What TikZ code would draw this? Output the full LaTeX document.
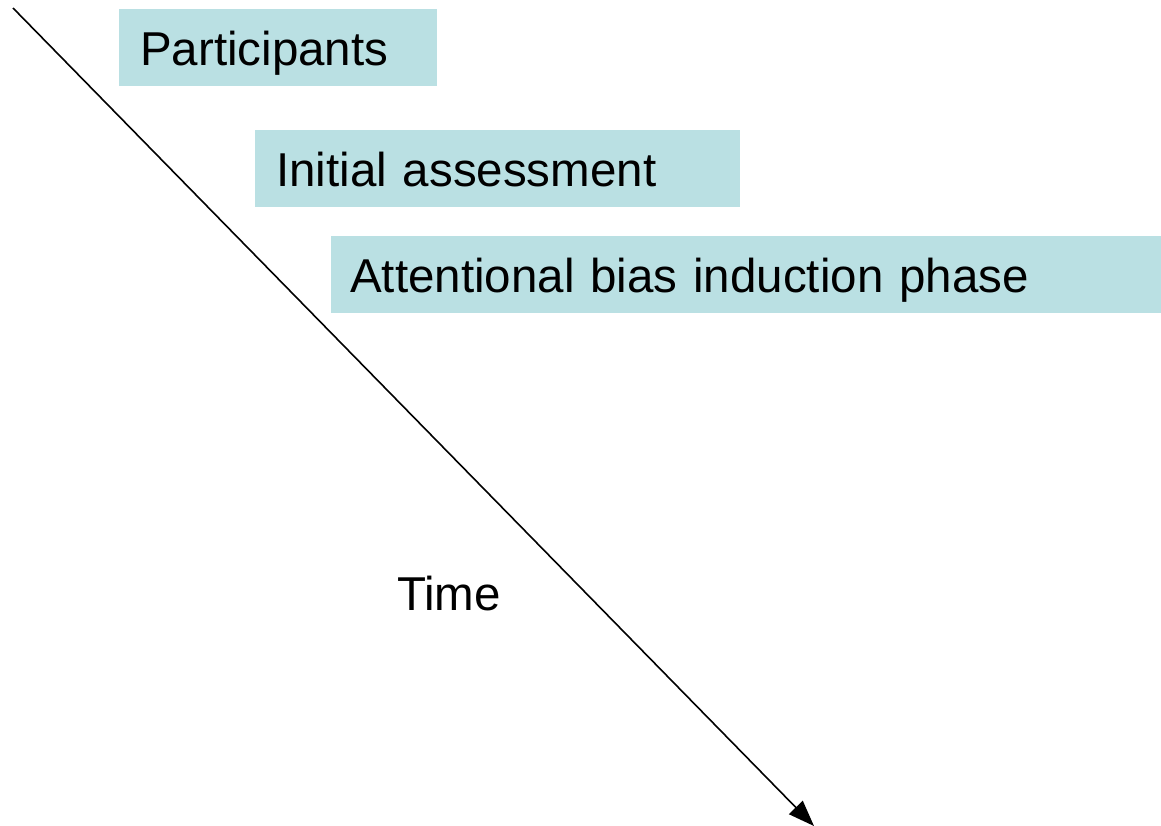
\documentclass[tikz,border=0pt]{standalone}
\usepackage{fontspec}
\setmainfont{Liberation Sans}
\usetikzlibrary{arrows.meta}
\definecolor{phasefill}{HTML}{BAE0E3}
\begin{document}
\begin{tikzpicture}[x=1pt,y=-1pt,
  phasebox/.style={fill=phasefill, anchor=north west, inner xsep=21pt, inner ysep=0pt,
    minimum height=77pt, text height=46pt, text depth=10pt, align=left,
    font=\fontsize{47.5}{52}\selectfont},
  timeline/.style={line width=1.6pt, -{Triangle[length=26pt,width=19pt]}}]
  \useasboundingbox (0,0) rectangle (1161,825);
  \coordinate (start) at (13,8);
  \coordinate (end) at (814,826);
  \draw[timeline] (start) -- (end);
  \node[phasebox, text width=276pt] (participants) at (119,9) {Participants};
  \node[phasebox, text width=443pt] (initial) at (255,130) {Initial assessment};
  \node[phasebox, inner xsep=19pt, text width=792pt] (induction) at (331,236) {Attentional bias induction phase};
  \node[font=\fontsize{47.5}{52}\selectfont] (time) at (449,594) {Time};
\end{tikzpicture}
\end{document}
